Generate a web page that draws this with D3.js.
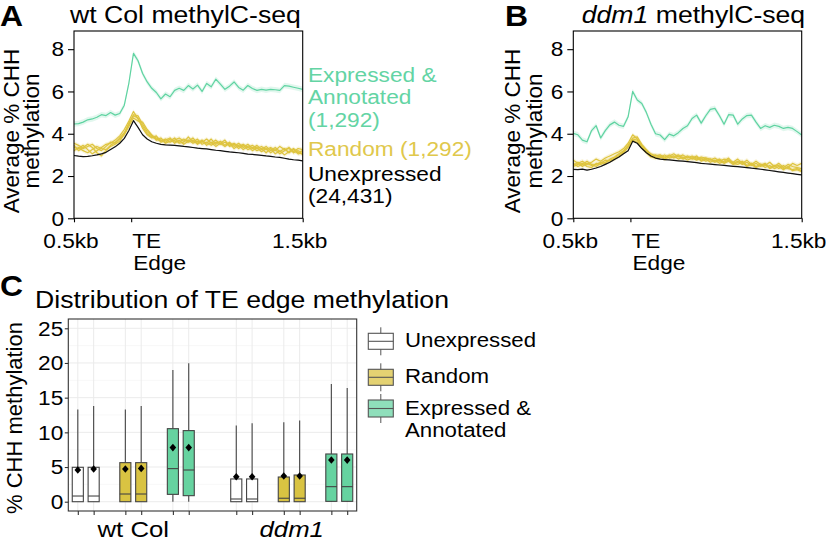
<!DOCTYPE html>
<html><head><meta charset="utf-8">
<script src="https://cdn.jsdelivr.net/npm/d3@7"></script>
<style>
body{margin:0;background:#fff}
svg{display:block}
text{font-family:"Liberation Sans",Arial,Helvetica,sans-serif}
</style>
</head><body>
<svg id="c" width="826" height="541"></svg>
<script>
// ---------------- DATA ----------------
// bins (bp relative to TE edge), -0.5kb .. +1.5kb
const positions = d3.range(-500, 1501, 40);

// Panel A: wt Col methylC-seq (average % CHH)
const wtExpressed = [4.46,4.48,4.55,4.66,4.70,4.78,4.90,4.86,5.00,4.88,4.96,5.35,6.40,7.80,7.45,6.85,6.45,6.15,5.95,5.65,5.88,5.75,6.05,6.15,6.05,6.28,6.12,6.30,6.00,6.38,6.22,6.58,6.35,6.10,6.25,6.45,6.19,6.06,6.28,6.14,6.05,6.10,6.06,6.10,6.08,6.05,6.28,6.25,6.20,6.15,6.10];
const wtUnexpressed = [2.97,2.94,2.92,2.93,2.96,3.00,3.05,3.12,3.25,3.38,3.55,3.78,4.15,4.62,4.30,3.95,3.75,3.62,3.55,3.50,3.47,3.46,3.45,3.43,3.40,3.38,3.35,3.32,3.30,3.28,3.25,3.22,3.20,3.17,3.14,3.12,3.10,3.07,3.04,3.02,3.00,2.98,2.95,2.93,2.90,2.88,2.84,2.80,2.77,2.75,2.72];
const wtRandom1 = [3.35,3.30,3.45,3.25,3.05,3.20,3.35,3.50,3.55,3.70,3.90,4.20,4.60,5.05,4.70,4.35,4.00,3.85,3.75,3.65,3.75,3.60,3.70,3.80,3.65,3.70,3.55,3.65,3.60,3.75,3.55,3.70,3.50,3.60,3.45,3.55,3.40,3.50,3.35,3.45,3.30,3.40,3.25,3.35,3.20,3.40,3.25,3.30,3.15,3.30,3.25];
const wtRandom2 = [3.55,3.45,3.30,3.40,3.50,3.30,3.20,3.40,3.60,3.55,3.80,4.05,4.45,4.90,4.85,4.45,4.10,3.90,3.80,3.70,3.60,3.75,3.65,3.60,3.75,3.60,3.70,3.50,3.65,3.55,3.75,3.50,3.65,3.45,3.60,3.40,3.55,3.35,3.50,3.30,3.45,3.25,3.40,3.20,3.35,3.15,3.30,3.10,3.25,3.05,3.10];
const wtRandom3 = [3.20,3.35,3.20,3.10,3.25,3.40,3.30,3.25,3.45,3.60,3.75,3.95,4.35,4.75,4.60,4.55,4.20,3.95,3.70,3.80,3.55,3.65,3.80,3.55,3.60,3.85,3.60,3.75,3.50,3.60,3.45,3.60,3.55,3.40,3.55,3.30,3.45,3.25,3.40,3.20,3.35,3.15,3.30,3.10,3.25,3.05,3.20,3.35,3.10,3.20,3.00];
const wtRandom4 = [3.45,3.20,3.35,3.50,3.35,3.10,2.95,3.20,3.40,3.50,3.65,4.00,4.50,4.85,4.75,4.25,3.95,3.80,3.90,3.60,3.70,3.80,3.55,3.70,3.50,3.65,3.80,3.55,3.70,3.45,3.60,3.40,3.55,3.70,3.40,3.50,3.30,3.45,3.25,3.35,3.20,3.30,3.10,3.30,3.05,3.20,3.00,3.15,3.30,3.10,3.20];

// Panel B: ddm1 methylC-seq
const ddmExpressed = [4.02,3.95,3.70,3.62,4.15,4.38,3.80,4.15,4.42,4.55,4.40,4.35,4.80,6.00,5.60,5.43,5.00,4.45,4.00,3.94,3.72,3.98,3.90,4.05,4.25,4.38,4.72,4.88,4.50,4.85,5.15,5.20,4.85,4.45,4.90,4.88,4.45,4.70,4.86,4.88,4.55,4.25,4.38,4.30,4.40,4.35,4.25,4.30,4.25,4.10,3.94];
const ddmUnexpressed = [2.31,2.30,2.33,2.28,2.32,2.38,2.45,2.55,2.65,2.78,2.90,3.05,3.20,3.65,3.55,3.30,3.10,2.95,2.85,2.80,2.78,2.76,2.74,2.72,2.70,2.68,2.66,2.63,2.60,2.58,2.56,2.54,2.52,2.50,2.48,2.46,2.44,2.42,2.40,2.37,2.35,2.32,2.29,2.26,2.23,2.20,2.17,2.14,2.11,2.08,2.05];
const ddmRandom1 = [2.75,2.60,2.70,2.55,2.65,2.80,2.70,2.85,2.95,3.05,3.15,3.30,3.55,3.95,3.75,3.45,3.20,3.05,2.95,3.00,2.90,2.95,3.05,2.90,3.00,2.85,2.95,2.80,2.90,2.85,2.75,2.85,2.70,2.80,2.75,2.65,2.80,2.60,2.75,2.55,2.70,2.55,2.50,2.65,2.45,2.60,2.40,2.55,2.45,2.40,2.35];
const ddmRandom2 = [2.50,2.65,2.45,2.60,2.50,2.55,2.65,2.60,2.80,2.90,3.05,3.20,3.45,3.80,3.85,3.50,3.25,3.00,2.90,2.85,3.00,2.85,2.90,3.00,2.85,2.95,2.80,2.90,2.75,2.85,2.80,2.70,2.80,2.65,2.75,2.60,2.70,2.55,2.65,2.50,2.60,2.45,2.55,2.40,2.50,2.35,2.50,2.35,2.30,2.35,2.25];
const ddmRandom3 = [2.60,2.45,2.55,2.70,2.55,2.45,2.60,2.75,2.70,2.85,3.00,3.15,3.40,3.75,3.70,3.40,3.15,2.95,3.00,2.90,2.85,3.00,2.85,2.95,2.80,2.90,2.85,2.75,2.85,2.70,2.80,2.65,2.75,2.60,2.70,2.55,2.65,2.70,2.50,2.60,2.45,2.55,2.40,2.50,2.35,2.45,2.30,2.45,2.25,2.30,2.20];
const ddmRandom4 = [2.45,2.55,2.60,2.45,2.40,2.60,2.55,2.65,2.75,2.80,2.95,3.10,3.35,3.70,3.60,3.35,3.10,2.90,2.85,2.95,2.80,2.90,2.95,2.80,2.90,2.75,2.85,2.95,2.70,2.80,2.65,2.75,2.60,2.70,2.85,2.60,2.55,2.65,2.45,2.55,2.40,2.50,2.60,2.35,2.45,2.50,2.35,2.40,2.60,2.50,2.60];

// confidence band half-widths (% CHH)
const ciExpressed = 0.13, ciRandom = 0.10, ciUnexpressed = 0.03;

const profileYTicks = [0, 2, 4, 6, 8];
const profileXTicks = [-500, 0, 1500];
const profileXLabels = ["0.5kb", "TE|Edge", "1.5kb"];

// Panel C: boxplot summaries (two replicates per class)
const genotypes = ["wt Col", "ddm1"];
const classes = ["Unexpressed", "Random", "Expressed & Annotated"];
const boxGenotype = [0,0,0,0,0,0,1,1,1,1,1,1];
const boxClass    = [0,0,1,1,2,2,0,0,1,1,2,2];
const boxRep      = [0,1,0,1,0,1,0,1,0,1,0,1];
const boxLow    = [0,0,0,0,0,0,0,0,0,0,0,0];
const boxQ1     = [0,0,0,0,1.06,0.87,0,0,0,0,0.05,0.05];
const boxMedian = [0.82,0.82,1.11,1.11,4.77,4.57,0.39,0.39,0.50,0.50,2.17,2.17];
const boxQ3     = [4.96,4.96,5.63,5.63,10.53,10.25,3.28,3.28,3.56,3.85,6.88,6.88];
const boxHigh   = [13.3,13.8,13.3,13.8,19.0,19.97,11.0,11.3,11.45,11.7,16.98,16.4];
const boxMean   = [4.57,4.72,4.72,4.80,7.80,7.80,3.60,3.60,3.70,3.70,6.02,6.00];
const boxYTicks = [0,5,10,15,20,25];

// ---------------- STYLE ----------------
const GREEN = "#5fd3a1", YELLOW = "#dec43e", BLACK = "#111";
const GREEN_TXT = "#63d4a4", YELLOW_TXT = "#e0c84c";
const BOX_FILL = ["#ffffff", "#d9c342", "#66d3a0"];
const KEY_FILL = ["#ffffff", "#e4d272", "#8fdfbb"];

const svg = d3.select("#c");

function label(g, x, y, s, o = {}) {
  const t = g.append("text")
    .attr("transform", `translate(${x},${y})` + (o.rot ? ` rotate(${o.rot})` : "") + ` scale(${o.sx ?? 1},1)`)
    .attr("font-size", o.size || 21)
    .attr("text-anchor", o.anchor || "start")
    .attr("fill", o.fill || "#000");
  if (o.weight) t.attr("font-weight", o.weight);
  if (Array.isArray(s)) {
    s.forEach(p => t.append("tspan").attr("font-style", p.i ? "italic" : null).text(p.t));
  } else t.text(s);
  if (o.italic) t.attr("font-style", "italic");
  return t;
}

// ---------------- PROFILE PANELS ----------------
function profile(p) {
  const top = 31, bottom = 218.3;
  const x = d3.scaleLinear().domain([-500, 1500]).range([p.x0, p.x1]);
  const y = d3.scaleLinear().domain([0, 8.86]).range([bottom, top]);
  const g = svg.append("g");

  const series = [
    {v: p.expressed, c: GREEN, ci: ciExpressed},
    ...p.random.map(v => ({v, c: YELLOW, ci: ciRandom})),
    {v: p.unexpressed, c: BLACK, ci: ciUnexpressed}
  ];
  series.forEach(s => {
    const area = d3.area().x((d, i) => x(positions[i])).y0(d => y(d - s.ci)).y1(d => y(d + s.ci));
    g.append("path").attr("d", area(s.v)).attr("fill", s.c).attr("opacity", s.c === BLACK ? 0.12 : 0.18);
  });
  series.forEach(s => {
    const line = d3.line().x((d, i) => x(positions[i])).y(d => y(d));
    g.append("path").attr("d", line(s.v)).attr("fill", "none").attr("stroke", s.c)
      .attr("stroke-width", 1.2).attr("stroke-linejoin", "round");
  });

  g.append("rect").attr("x", p.x0).attr("y", top).attr("width", p.x1 - p.x0).attr("height", bottom - top)
    .attr("fill", "none").attr("stroke", "#000").attr("stroke-width", 1.1);

  const ya = g.append("g").attr("transform", `translate(${p.x0},0)`)
    .call(d3.axisLeft(y).tickValues(profileYTicks).tickSize(6).tickPadding(4).tickFormat(d3.format("d")));
  ya.select(".domain").remove();
  ya.attr("font-family", null).attr("font-size", 21);
  ya.selectAll("line").attr("stroke", "#000").attr("stroke-width", 1.1);
  ya.selectAll("text").attr("fill", "#000").attr("x", -10 / 1.08).attr("transform", "scale(1.08,1)");

  const xa = g.append("g").attr("transform", `translate(0,${bottom})`)
    .call(d3.axisBottom(x).tickValues(profileXTicks).tickSize(4).tickFormat(""));
  xa.select(".domain").remove();
  xa.selectAll("line").attr("stroke", "#000").attr("stroke-width", 1.1);

  profileXTicks.forEach((v, i) => {
    const lab = profileXLabels[i];
    if (lab.includes("|")) {
      const [a, b] = lab.split("|");
      label(g, x(v) + 1, 247.7, a, {sx: 1.08});
      label(g, x(v) + 2, 269.5, b, {sx: 1.08});
    } else {
      label(g, x(v) - 3, 247.7, lab, {sx: 1.08, anchor: "middle"});
    }
  });

  label(g, p.ylab1, 131, "Average % CHH", {rot: -90, anchor: "middle", size: 22.5});
  label(g, p.ylab2, 131, "methylation", {rot: -90, anchor: "middle", size: 22.5});
  label(g, p.letterX, 26, p.letter, {size: 29, weight: "bold", sx: 1.1});
  label(g, p.titleX, 22.7, p.title, {size: 24, sx: 1.11});
}

profile({x0: 74, x1: 302.7, expressed: wtExpressed, unexpressed: wtUnexpressed,
  random: [wtRandom1, wtRandom2, wtRandom3, wtRandom4],
  ylab1: 19, ylab2: 39, letter: "A", letterX: 0, titleX: 70,
  title: [{t: "wt Col methylC-seq"}]});
profile({x0: 573.3, x1: 801.7, expressed: ddmExpressed, unexpressed: ddmUnexpressed,
  random: [ddmRandom1, ddmRandom2, ddmRandom3, ddmRandom4],
  ylab1: 519.5, ylab2: 542, letter: "B", letterX: 505, titleX: 581.7,
  title: [{t: "ddm1", i: true}, {t: " methylC-seq"}]});

// annotations panel A
const ann = svg.append("g");
[["Expressed &", 81.5, GREEN_TXT], ["Annotated", 104.2, GREEN_TXT], ["(1,292)", 126.7, GREEN_TXT],
 ["Random (1,292)", 156.3, YELLOW_TXT], ["Unexpressed", 180.5, "#000"], ["(24,431)", 203.2, "#000"]]
  .forEach(([t, yy, c]) => label(ann, 308, yy, t, {fill: c, sx: 1.08}));

// ---------------- PANEL C ----------------
(function () {
  const x0 = 68.3, x1 = 356.7, top = 319, bottom = 511;
  const g = svg.append("g");
  const x = d3.scaleLinear().domain([-0.6, 17.6]).range([x0, x1]);
  const y = d3.scaleLinear().domain([-1.34, 26.34]).range([bottom, top]);
  const slot = i => boxGenotype[i] * 10 + boxClass[i] * 3 + boxRep[i];
  const idx = d3.range(boxQ1.length);
  const bw = x(0.7) - x(0);

  // grid
  d3.range(2.5, 26, 5).forEach(v => g.append("line").attr("x1", x0).attr("x2", x1).attr("y1", y(v)).attr("y2", y(v))
    .attr("stroke", "#f4f4f4").attr("stroke-width", 0.6));
  boxYTicks.forEach(v => g.append("line").attr("x1", x0).attr("x2", x1).attr("y1", y(v)).attr("y2", y(v))
    .attr("stroke", "#ebebeb").attr("stroke-width", 1));
  idx.forEach(i => g.append("line").attr("x1", x(slot(i))).attr("x2", x(slot(i))).attr("y1", top).attr("y2", bottom)
    .attr("stroke", "#ebebeb").attr("stroke-width", 1));

  idx.forEach(i => {
    const cx = x(slot(i));
    g.append("line").attr("x1", cx).attr("x2", cx).attr("y1", y(boxQ3[i])).attr("y2", y(boxHigh[i]))
      .attr("stroke", "#444").attr("stroke-width", 1.1);
    if (boxLow[i] < boxQ1[i]) g.append("line").attr("x1", cx).attr("x2", cx).attr("y1", y(boxQ1[i])).attr("y2", y(boxLow[i]))
      .attr("stroke", "#444").attr("stroke-width", 1.1);
    g.append("rect").attr("x", cx - bw / 2).attr("y", y(boxQ3[i])).attr("width", bw)
      .attr("height", y(boxQ1[i]) - y(boxQ3[i])).attr("fill", BOX_FILL[boxClass[i]])
      .attr("stroke", "#444").attr("stroke-width", 1.1);
    g.append("line").attr("x1", cx - bw / 2).attr("x2", cx + bw / 2).attr("y1", y(boxMedian[i])).attr("y2", y(boxMedian[i]))
      .attr("stroke", "#444").attr("stroke-width", 1.1);
    const my = y(boxMean[i]);
    g.append("path").attr("d", `M${cx},${my - 3.8}L${cx + 3.3},${my}L${cx},${my + 3.8}L${cx - 3.3},${my}Z`).attr("fill", "#000");
  });

  g.append("rect").attr("x", x0).attr("y", top).attr("width", x1 - x0).attr("height", bottom - top)
    .attr("fill", "none").attr("stroke", "#333").attr("stroke-width", 1.1);

  const ya = g.append("g").attr("transform", `translate(${x0},0)`)
    .call(d3.axisLeft(y).tickValues(boxYTicks).tickSize(3.5).tickPadding(1.5));
  ya.select(".domain").remove();
  ya.attr("font-family", null).attr("font-size", 21);
  ya.selectAll("line").attr("stroke", "#333").attr("stroke-width", 1.1);
  ya.selectAll("text").attr("fill", "#000").attr("x", -5 / 1.08).attr("transform", "scale(1.08,1)");

  const xa = g.append("g").attr("transform", `translate(0,${bottom})`)
    .call(d3.axisBottom(x).tickValues(idx.map(slot)).tickSize(4).tickFormat(""));
  xa.select(".domain").remove();
  xa.selectAll("line").attr("stroke", "#333").attr("stroke-width", 1.1);

  genotypes.forEach((gname, k) => {
    const cxg = (x(k * 10) + x(k * 10 + 7)) / 2;
    label(g, cxg, 537.3, gname, {anchor: "middle", size: 23, sx: 1.12, italic: k === 1});
  });

  label(g, 22, 418, "% CHH methylation", {rot: -90, anchor: "middle", size: 22});
  label(g, 0, 296, "C", {size: 29, weight: "bold", sx: 1.1});
  label(g, 35, 308.3, "Distribution of TE edge methylation", {size: 24, sx: 1.11});

  // legend
  const keys = [
    {top: 333.3, h: 16, lines: ["Unexpressed"], ty: [346.7]},
    {top: 369.3, h: 16, lines: ["Random"], ty: [383.3]},
    {top: 400, h: 17, lines: ["Expressed &", "Annotated"], ty: [415, 437]}
  ];
  keys.forEach((k, c) => {
    const kx = 368.3, kw = 25, kc = kx + kw / 2;
    g.append("line").attr("x1", kc).attr("x2", kc).attr("y1", k.top - 6).attr("y2", k.top + k.h + 6)
      .attr("stroke", "#555").attr("stroke-width", 1);
    g.append("rect").attr("x", kx).attr("y", k.top).attr("width", kw).attr("height", k.h)
      .attr("fill", KEY_FILL[c]).attr("stroke", "#555").attr("stroke-width", 1.1);
    g.append("line").attr("x1", kx).attr("x2", kx + kw).attr("y1", k.top + k.h / 2).attr("y2", k.top + k.h / 2)
      .attr("stroke", "#555").attr("stroke-width", 1.1);
    k.lines.forEach((t, j) => label(g, 405, k.ty[j], t, {sx: 1.06}));
  });
})();
</script>
</body></html>
